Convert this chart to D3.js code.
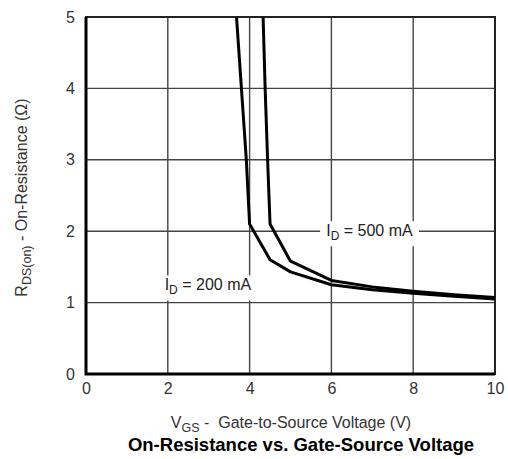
<!DOCTYPE html>
<html>
<head>
<meta charset="utf-8">
<script src="https://cdn.jsdelivr.net/npm/d3@7"></script>
<style>
  body { margin: 0; background: #fff; }
  text { font-family: "Liberation Sans", Arial, sans-serif; }
</style>
</head>
<body>
<div id="chart"></div>
<script>
// -------- Data --------
const vgs200 = [3.68, 3.8, 3.92, 4.0, 4.5, 5, 6, 7, 8, 9, 10];
const rds200 = [5, 4, 3, 2.1, 1.6, 1.43, 1.25, 1.18, 1.13, 1.09, 1.05];
const vgs500 = [4.33, 4.38, 4.44, 4.5, 5, 6, 7, 8, 9, 10];
const rds500 = [5, 4, 3, 2.1, 1.58, 1.31, 1.22, 1.16, 1.11, 1.07];
const xTicks = [0, 2, 4, 6, 8, 10];
const yTicks = [0, 1, 2, 3, 4, 5];

const width = 508, height = 459;
const margin = { left: 86, right: 13, top: 17, bottom: 85 };

const svg = d3.select("#chart").append("svg")
  .attr("width", width).attr("height", height);

const x = d3.scaleLinear().domain([0, 10]).range([margin.left, width - margin.right]);
const y = d3.scaleLinear().domain([0, 5]).range([height - margin.bottom, margin.top]);

// -------- Grid --------
const grid = svg.append("g").attr("stroke", "#444").attr("stroke-width", 1.4);
grid.selectAll("line.v").data(xTicks.slice(1, -1)).join("line")
  .attr("x1", d => x(d)).attr("x2", d => x(d))
  .attr("y1", y(0)).attr("y2", y(5));
grid.selectAll("line.h").data(yTicks.slice(1, -1)).join("line")
  .attr("x1", x(0)).attr("x2", x(10))
  .attr("y1", d => y(d)).attr("y2", d => y(d));

// -------- Axes (tick labels only) --------
const xAxis = svg.append("g")
  .attr("transform", `translate(0,${y(0)})`)
  .call(d3.axisBottom(x).tickValues(xTicks).tickFormat(d3.format("d")).tickSize(0).tickPadding(9));
const yAxis = svg.append("g")
  .attr("transform", `translate(${x(0)},0)`)
  .call(d3.axisLeft(y).tickValues(yTicks).tickFormat(d3.format("d")).tickSize(0).tickPadding(11));
[xAxis, yAxis].forEach(g => {
  g.select(".domain").remove();
  g.selectAll("text").attr("font-size", 16).attr("fill", "#333")
    .attr("font-family", "Liberation Sans, Arial, sans-serif");
});

// Frame: heavier left/bottom
svg.append("rect")
  .attr("x", x(0)).attr("y", y(5))
  .attr("width", x(10) - x(0)).attr("height", y(0) - y(5))
  .attr("fill", "none").attr("stroke", "#222").attr("stroke-width", 2);
svg.append("path")
  .attr("d", `M${x(0)},${y(5)}V${y(0)}H${x(10)}`)
  .attr("fill", "none").attr("stroke", "#000").attr("stroke-width", 3);

// -------- Curves --------
const plot = svg.append("g");
[[vgs200, rds200], [vgs500, rds500]].forEach(([vs, rs]) => {
  plot.append("path")
    .datum(vs.map((v, i) => [v, rs[i]]))
    .attr("d", d3.line().x(d => x(d[0])).y(d => y(d[1])))
    .attr("fill", "none").attr("stroke", "#000")
    .attr("stroke-width", 3).attr("stroke-linejoin", "round");
});

// -------- Curve labels --------
function label(cx, cy, num) {
  const g = svg.append("g");
  const t = g.append("text").attr("x", cx).attr("y", cy)
    .attr("font-size", 16).attr("fill", "#222").attr("text-anchor", "middle");
  t.append("tspan").text("I");
  t.append("tspan").attr("font-size", 12).attr("dy", 4).text("D");
  t.append("tspan").attr("dy", -4).text(` = ${num} mA`);
  const bb = t.node().getBBox();
  g.insert("rect", "text")
    .attr("x", bb.x - 6).attr("y", bb.y - 1)
    .attr("width", bb.width + 12).attr("height", bb.height + 4)
    .attr("fill", "#fff");
}
label(x(6.93), y(2.0) + 5, 500);
label(x(2.98), y(1.24) + 5, 200);

// -------- Axis titles --------
const xt = svg.append("text")
  .attr("x", 291).attr("y", 428)
  .attr("text-anchor", "middle").attr("font-size", 16).attr("fill", "#333")
  .attr("xml:space", "preserve");
xt.append("tspan").text("V");
xt.append("tspan").attr("font-size", 12.5).attr("dy", 4).text("GS");
xt.append("tspan").attr("dy", -4).text(" -  Gate-to-Source Voltage (V)");

const yt = svg.append("text")
  .attr("transform", `translate(27,${y(2.5) + 2}) rotate(-90)`)
  .attr("text-anchor", "middle").attr("font-size", 16).attr("fill", "#333");
yt.append("tspan").text("R");
yt.append("tspan").attr("font-size", 12.5).attr("dy", 4).text("DS(on)");
yt.append("tspan").attr("dy", -4).text(" - On-Resistance (Ω)");

svg.append("text")
  .attr("x", 301).attr("y", 451)
  .attr("text-anchor", "middle").attr("font-size", 18.5)
  .attr("font-weight", "bold").attr("fill", "#000")
  .text("On-Resistance vs. Gate-Source Voltage");
</script>
</body>
</html>
